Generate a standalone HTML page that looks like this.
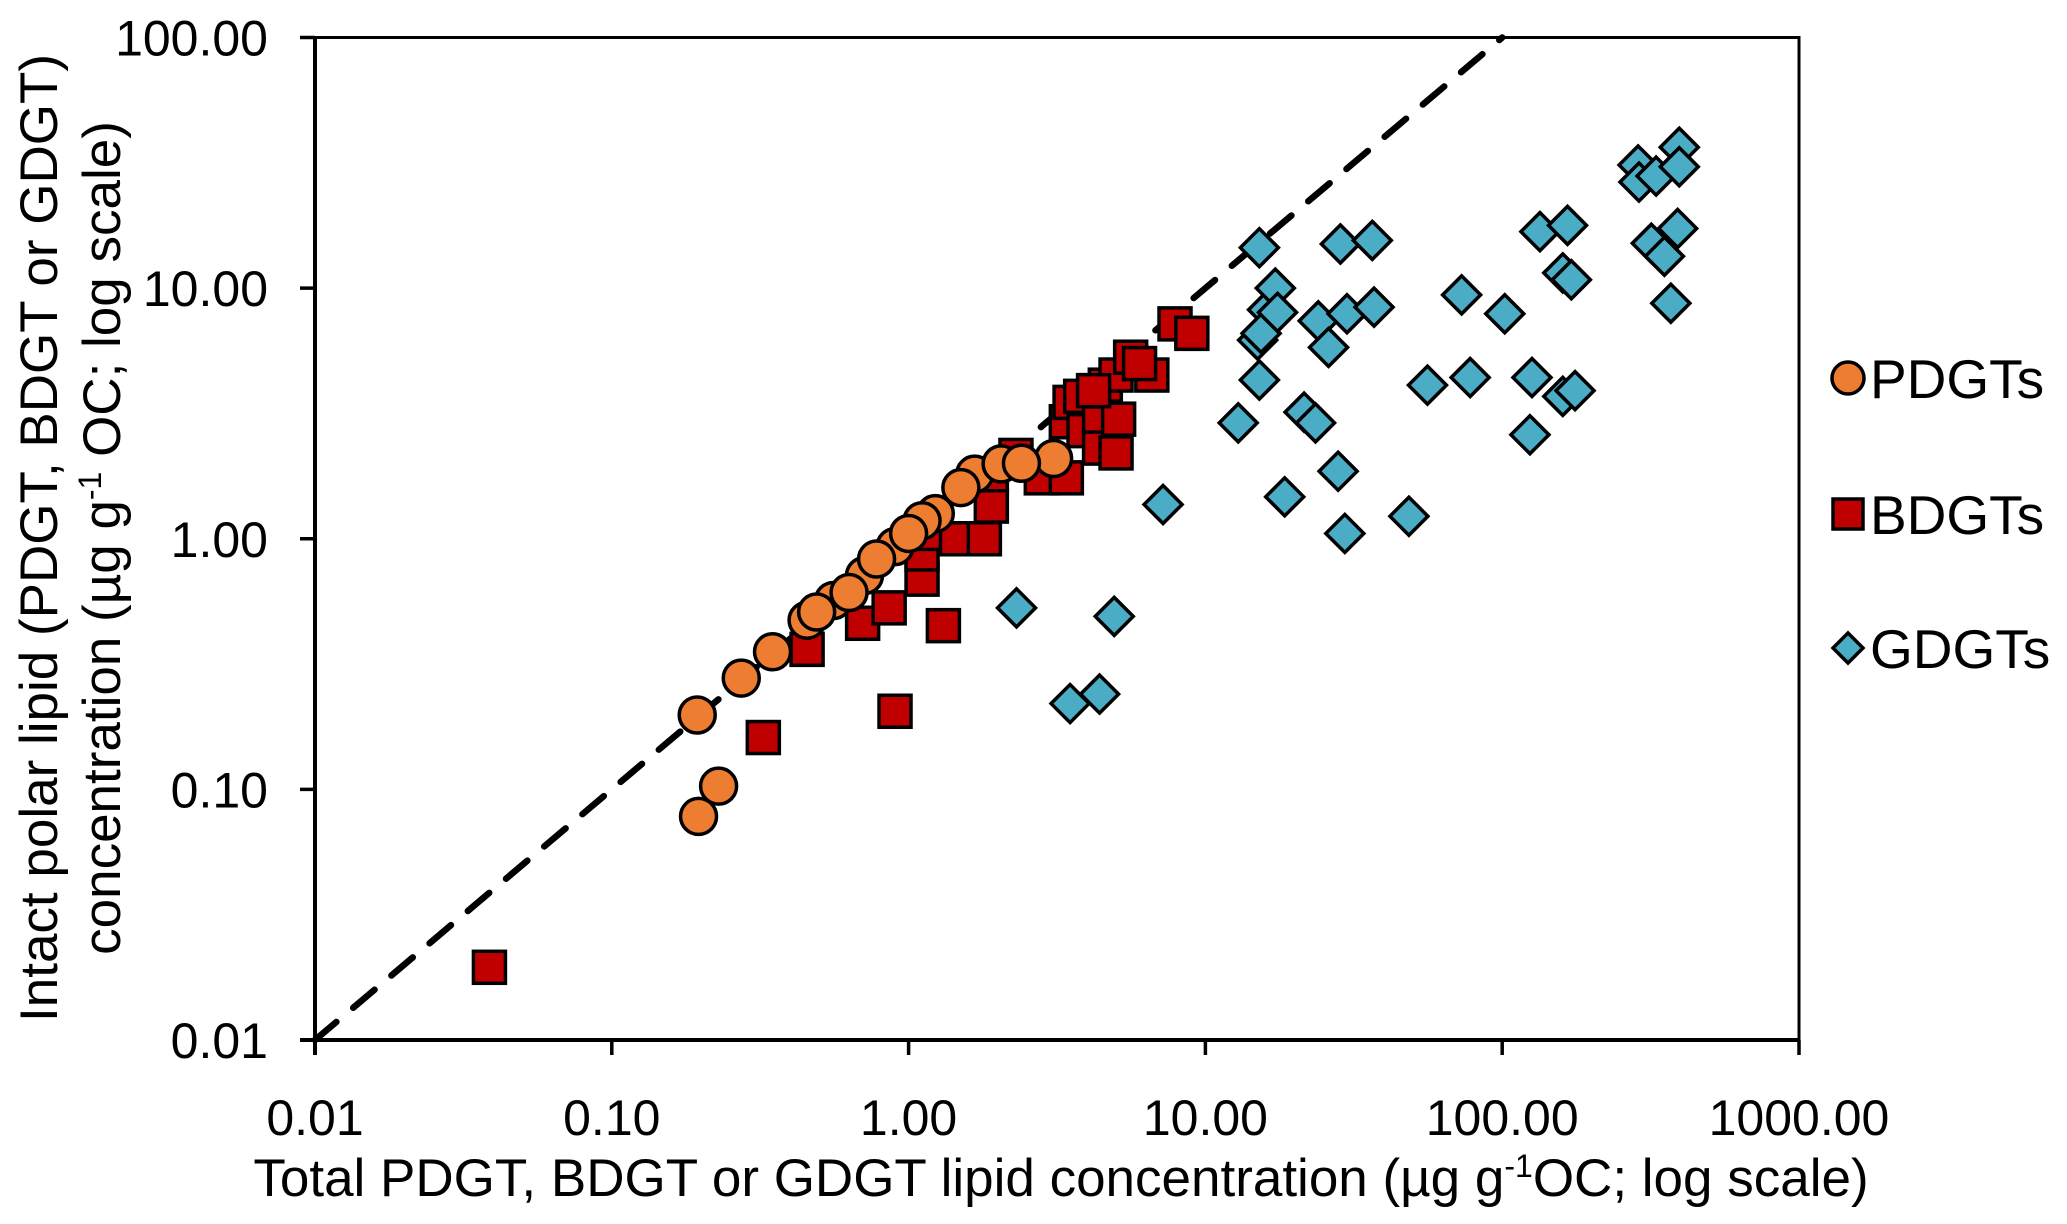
<!DOCTYPE html>
<html><head><meta charset="utf-8"><style>
html,body{margin:0;padding:0;background:#fff;}
svg{display:block;font-family:"Liberation Sans",Arial,sans-serif;}
</style></head><body>
<svg id="chart" width="2067" height="1224" viewBox="0 0 2067 1224" xmlns="http://www.w3.org/2000/svg">
<rect width="2067" height="1224" fill="#fff"/>
<g id="plot"></g>
<g id="axes"></g>
<text x="1061" y="1196" font-size="53" text-anchor="middle">Total PDGT, BDGT or GDGT lipid concentration (µg g<tspan dy="-19" font-size="32">-1</tspan><tspan dy="19">OC; log scale)</tspan></text>
<g transform="translate(57,538) rotate(-90)">
<text x="0" y="0" font-size="53" text-anchor="middle">Intact polar lipid (PDGT, BDGT or GDGT)</text>
<text x="0" y="63" font-size="53" text-anchor="middle">concentration (µg g<tspan dy="-19" font-size="32">-1</tspan><tspan dy="19"> OC; log scale)</tspan></text>
</g>
<g>
<circle cx="1848" cy="378" r="16" fill="#ED7D31" stroke="#000" stroke-width="3.5"/>
<text x="1870" y="398" font-size="55">PDGTs</text>
<rect x="1833" y="499" width="30" height="30" fill="#C00000" stroke="#000" stroke-width="3.5"/>
<text x="1870" y="534" font-size="55">BDGTs</text>
<path d="M1848 633 L1863 648 L1848 663 L1833 648 Z" fill="#4BACC6" stroke="#000" stroke-width="3.5"/>
<text x="1870" y="668" font-size="55">GDGTs</text>
</g>
</svg>
<script>
const xTicks = [0.01, 0.1, 1, 10, 100, 1000];
const xTickLabels = ["0.01", "0.10", "1.00", "10.00", "100.00", "1000.00"];
const yTicks = [0.01, 0.1, 1, 10, 100];
const yTickLabels = ["0.01", "0.10", "1.00", "10.00", "100.00"];
const pdgtX = [0.196,0.229,0.194,0.273,0.348,0.455,0.558,0.71,0.90,1.23,1.67,2.05,3.08,0.63,1.11,1.0,0.78,0.49,1.5,2.4];
const pdgtY = [0.078,0.103,0.198,0.278,0.354,0.473,0.567,0.713,0.93,1.26,1.81,1.99,2.09,0.61,1.18,1.05,0.83,0.51,1.6,2.0];
const bdgtX = [0.0387,0.324,0.90,0.455,0.70,1.31,0.86,1.11,1.11,1.2,1.45,1.8,1.9,1.9,2.3,2.8,3.4,3.4,3.5,3.8,3.9,4.4,4.4,5.1,5.0,4.6,5.0,5.6,6.6,6.0,7.9,9.0,4.2];
const bdgtY = [0.0195,0.161,0.205,0.362,0.46,0.45,0.53,0.69,0.87,1.05,1.0,1.0,1.35,1.8,2.15,1.75,1.75,2.93,3.5,3.7,2.7,2.9,2.3,3.0,2.2,4.1,4.5,5.3,4.5,5.0,7.2,6.6,3.9];
const gdgtX = [2.31,4.93,4.4,3.5,7.2,12.9,15.2,16.2,15,15.4,15.2,17.2,17.5,18.5,21.5,23.5,24,26,28.5,28,29.5,30,36.5,37,48.5,56,73,78,102,126,124,134,160,166,171,160,176,287,289,318,352,330,370,395,395,390];
const gdgtY = [0.53,0.49,0.24,0.22,1.37,2.9,14.5,8.2,6.2,6.6,4.3,10,8,1.47,3.2,2.9,7.4,5.8,15,1.86,1.05,7.9,15.5,8.4,1.23,4.1,9.4,4.4,7.9,4.4,2.6,16.8,11.5,17.8,10.8,3.7,3.9,31,26.5,15.1,13.4,28,8.7,36.5,30.5,17.3];

const L=315, R=1799, T=37.5, B=1040;
function sx(v){ return L + (Math.log10(v) + 2) / 5 * (R - L); }
function sy(v){ return B - (Math.log10(v) + 2) / 4 * (B - T); }
const NS="http://www.w3.org/2000/svg";
function mk(tag, attrs, parent){ const e=document.createElementNS(NS,tag); for(const k in attrs) e.setAttribute(k, attrs[k]); parent.appendChild(e); return e; }
const plot=document.getElementById('plot'), axes=document.getElementById('axes');

const ref = mk('line',{x1:sx(0.01),y1:sy(0.01),x2:sx(100),y2:sy(100),stroke:'#000','stroke-width':6.5,'stroke-dasharray':'28 22','stroke-linecap':'round'},plot);



const frame = mk('rect',{x:L,y:T,width:R-L,height:B-T,fill:'none',stroke:'#000','stroke-width':3},axes);


const xa = mk('line',{x1:L-15,y1:B,x2:R,y2:B,stroke:'#000','stroke-width':4},axes);


const ya = mk('line',{x1:L,y1:T,x2:L,y2:B+15,stroke:'#000','stroke-width':4},axes);



xTicks.forEach((v,i)=>{
  const t = mk('line',{x1:sx(v),y1:B,x2:sx(v),y2:B+15,stroke:'#000','stroke-width':3.5},axes);
  
  
  const lb = mk('text',{x:sx(v),y:B+95,'font-size':50,'text-anchor':'middle'},axes);
  lb.textContent = xTickLabels[i];
  
  
});
yTicks.forEach((v,i)=>{
  const t = mk('line',{x1:L-15,y1:sy(v),x2:L,y2:sy(v),stroke:'#000','stroke-width':3.5},axes);
  
  
  const lb = mk('text',{x:268,y:sy(v)+18,'font-size':50,'text-anchor':'end'},axes);
  lb.textContent = yTickLabels[i];
  
  
});

gdgtX.forEach((v,i)=>{
  const x=sx(v), y=sy(gdgtY[i]), h=19;
  const p = mk('path',{d:`M${x} ${y-h} L${x+h} ${y} L${x} ${y+h} L${x-h} ${y} Z`,fill:'#4BACC6',stroke:'#000','stroke-width':3.5},plot);
  
  
});
bdgtX.forEach((v,i)=>{
  const x=sx(v), y=sy(bdgtY[i]), s=32;
  const p = mk('rect',{x:x-s/2,y:y-s/2,width:s,height:s,fill:'#C00000',stroke:'#000','stroke-width':3.5},plot);
  
  
});
pdgtX.forEach((v,i)=>{
  const p = mk('circle',{cx:sx(v),cy:sy(pdgtY[i]),r:18,fill:'#ED7D31',stroke:'#000','stroke-width':3.5},plot);
  
  
});
</script>
</body></html>
